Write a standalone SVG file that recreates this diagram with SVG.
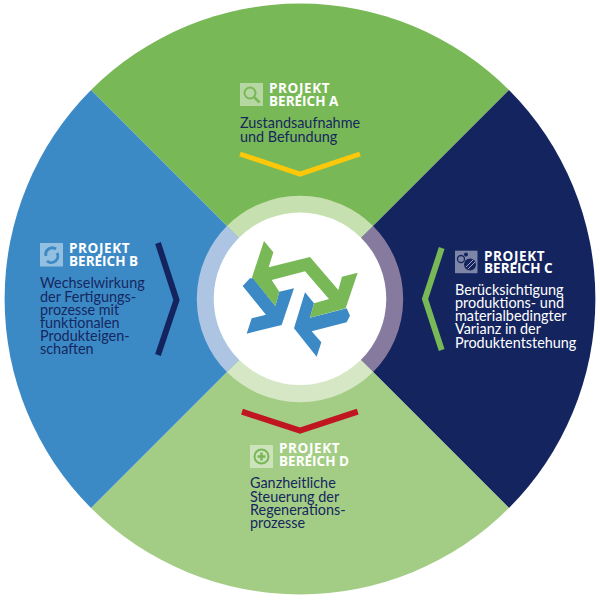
<svg xmlns="http://www.w3.org/2000/svg" width="600" height="600" viewBox="0 0 600 600">
<style>
text{font-family:"Lato","Open Sans","Liberation Sans",sans-serif}
.h{font-family:"Open Sans","Liberation Sans",sans-serif;font-size:13.5px;font-weight:700;fill:#fff}
.p{letter-spacing:.6px}
.b{font-size:14.400px;fill:#16275f}
.l{fill:#fff}
.c{fill:none;stroke-width:5;stroke-linejoin:miter}
.i{fill:#fff;fill-opacity:.45}
</style>
<rect width="600" height="600" fill="#fff"/>
<g id="sectors">
<path d="M300 299L91 90A296 296 0 0 1 509 90Z" fill="#78b856"/>
<path d="M300 299L509 90A296 296 0 0 1 509 508Z" fill="#14245f"/>
<path d="M300 299L509 508A296 296 0 0 1 91 508Z" fill="#a3cd84"/>
<path d="M300 299L91 508A296 296 0 0 1 91 90Z" fill="#3b8ac6"/>
</g>
<g id="ring" fill="none" stroke-width="17.5">
<path d="M233.100 232.100A95 95 0 0 1 366.900 232.100" stroke="#c6e0b0"/>
<path d="M366.900 232.100A95 95 0 0 1 366.900 365.900" stroke="#877a9f"/>
<path d="M366.900 365.900A95 95 0 0 1 233.100 365.900" stroke="#d6e7c6"/>
<path d="M233.100 365.900A95 95 0 0 1 233.100 232.100" stroke="#adc4e3"/>
<circle cx="300" cy="298.800" r="86.300" fill="#fff" stroke="none"/>
</g>
<g id="logo" transform="translate(190 190) scale(.33333)">
<path d="M158 288L180 265L190 265L256 348L268 305L312 295L275 405L170 431L185 385L228 374Z" fill="#3b8ac6"/>
<path d="M345 307L372 340L360 383L470 355L480 377L470 397L365 424L394 457L380 500L312 415Z" fill="#3b8ac6"/>
<path d="M222 153L250 187L236 232L360 201L445 300L456 260L503 248L467 355L360 383L372 340L417 327L345 244L245 270L268 305L256 348L186 262Z" fill="#78b856"/>
</g>
<g id="connectors">
<polyline class="c" points="240,154 300,174 360,154" stroke="#fdc80a"/>
<polyline class="c" points="158,243 176.500,300 158,355" stroke="#14245f" style="stroke-width:6"/>
<polyline class="c" points="441.700,248 425,299 441.700,350" stroke="#78b856" style="stroke-width:6"/>
<polyline class="c" points="242,411.700 300,430.700 357.700,411.700" stroke="#bf1622" style="stroke-width:6"/>
</g>
<g id="node-a">
<rect class="i" x="240" y="83" width="23" height="23"/>
<circle cx="250" cy="93" r="5.500" fill="none" stroke="#78b856" stroke-width="2"/>
<path d="M254 97L259.500 102.500" stroke="#78b856" stroke-width="2.500"/>
<text class="h"><tspan class="p" x="269" y="92.700">PROJEKT</tspan><tspan x="269" y="105.700">BEREICH A</tspan></text>
<text class="b"><tspan x="240" y="127.700">Zustandsaufnahme</tspan><tspan x="240" y="141.700">und Befundung</tspan></text>
</g>
<g id="node-b">
<rect class="i" x="40" y="243" width="23" height="23.500"/>
<path d="M46 256A6.500 6.500 0 0 1 56 249M57 253A6.500 6.500 0 0 1 47 261" fill="none" stroke="#3b8ac6" stroke-width="2.800"/>
<text class="h"><tspan class="p" x="69" y="253">PROJEKT</tspan><tspan x="69" y="265.700">BEREICH B</tspan></text>
<text class="b"><tspan x="40" y="288.300">Wechselwirkung</tspan><tspan x="40" y="301.700">der Fertigungs-</tspan><tspan x="40" y="314.800">prozesse mit</tspan><tspan x="40" y="327.800">funktionalen</tspan><tspan x="40" y="341">Produkteigen-</tspan><tspan x="40" y="354">schaften</tspan></text>
</g>
<g id="node-c">
<rect class="i" x="455" y="250.700" width="22.500" height="22.500"/>
<circle cx="461" cy="259" r="3.500" fill="none" stroke="#14245f" stroke-width="1.300"/>
<circle cx="466" cy="254.500" r="2" fill="#14245f"/>
<circle cx="470" cy="264.500" r="6" fill="#14245f"/>
<path d="M466 267L473 260M468 269L475 262" stroke="#a9a3bd" stroke-width="1"/>
<text class="h"><tspan class="p" x="484" y="260.700">PROJEKT</tspan><tspan x="484" y="272.700">BEREICH C</tspan></text>
<text class="b" style="fill:#fff"><tspan x="455" y="295">Berücksichtigung</tspan><tspan x="455" y="308">produktions- und</tspan><tspan x="455" y="321.300">materialbedingter</tspan><tspan x="455" y="334.300">Varianz in der</tspan><tspan x="455" y="347.500">Produktentstehung</tspan></text>
</g>
<g id="node-d">
<rect class="i" x="250" y="445" width="23" height="23"/>
<circle cx="261.500" cy="456.500" r="7" fill="none" stroke="#78b856" stroke-width="2"/>
<path d="M257.500 456.500H265.500M261.500 452.500V460.500" stroke="#78b856" stroke-width="2.500"/>
<text class="h"><tspan class="p" x="279" y="453">PROJEKT</tspan><tspan x="279" y="465.700">BEREICH D</tspan></text>
<text class="b"><tspan x="250" y="488">Ganzheitliche</tspan><tspan x="250" y="501.500">Steuerung der</tspan><tspan x="250" y="514.800">Regenerations-</tspan><tspan x="250" y="528">prozesse</tspan></text>
</g>
</svg>
